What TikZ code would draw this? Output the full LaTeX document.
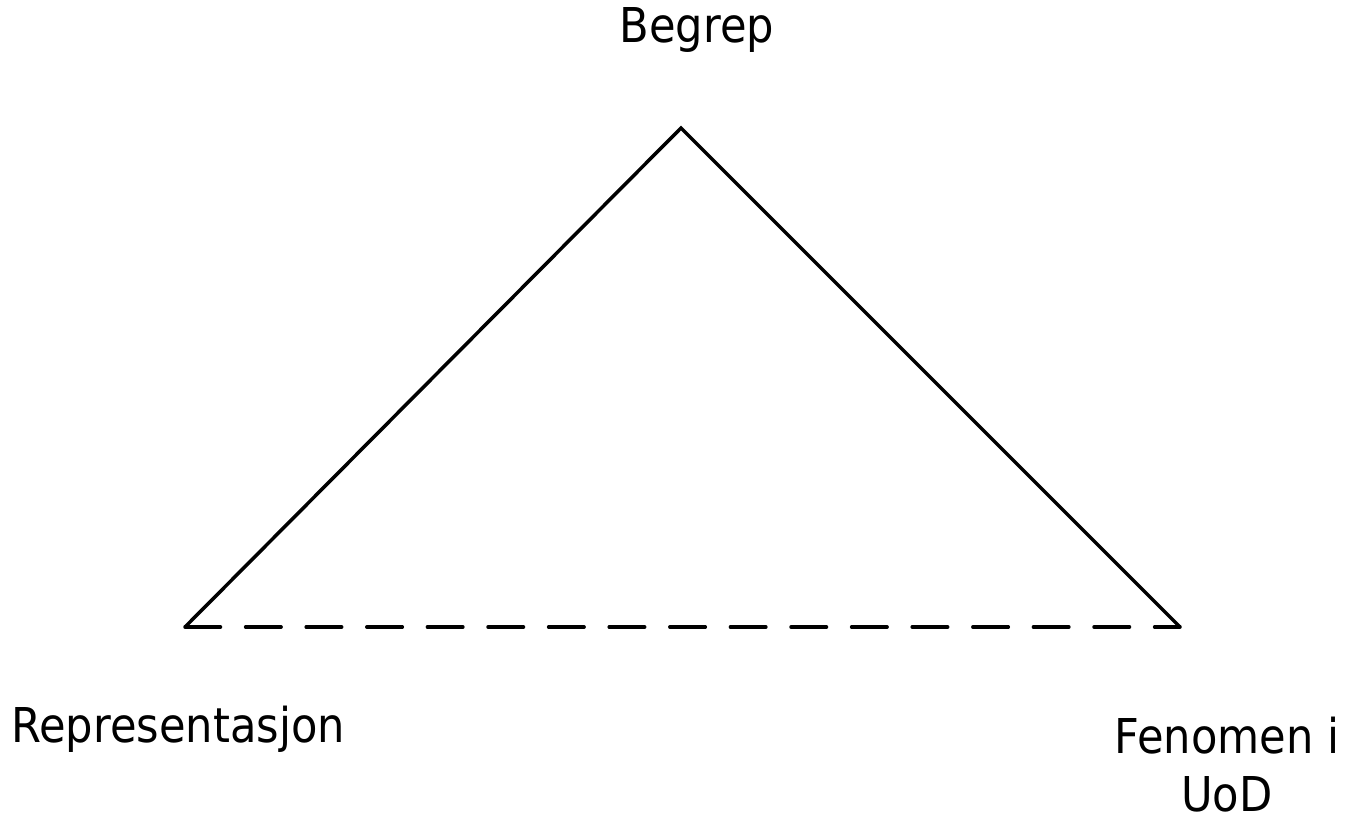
\documentclass[tikz,border=0pt]{standalone}
\usepackage{fontspec}
\setmainfont[FakeStretch=0.9]{DejaVu Sans}
\begin{document}
\begin{tikzpicture}[x=1pt,y=-1pt,
  edge/.style={line width=3.5pt, line join=miter},
  base/.style={line width=3.5pt, line cap=round, dash pattern=on 35.5pt off 25.1pt},
  lbl/.style={inner sep=0pt, font=\fontsize{48}{58}\selectfont}]
\useasboundingbox (0,0) rectangle (1348,816);
\coordinate (top) at (681,128);
\coordinate (left) at (185,627);
\coordinate (right) at (1180,627);
\draw[edge] (left) -- (top) -- (right);
\draw[base] (left) -- (right);
\node[lbl, anchor=base] (begrep) at (697,43) {Begrep};
\node[lbl, anchor=base west] (repr) at (11,742) {Representasjon};
\node[lbl, anchor=base, align=center] (fen) at (1227,811) {Fenomen i\\UoD};
\end{tikzpicture}
\end{document}
